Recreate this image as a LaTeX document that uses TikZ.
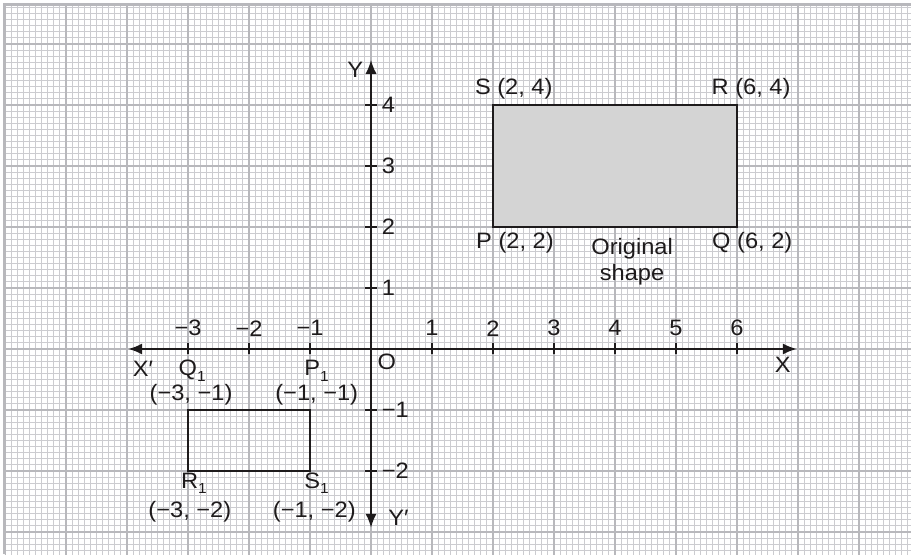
\documentclass[tikz,border=0pt]{standalone}
\usepackage{fontspec}
\setmainfont{Liberation Sans}[FakeStretch=1.06]
\usetikzlibrary{arrows.meta}
\definecolor{minorc}{RGB}{204,204,208}
\definecolor{majorc}{RGB}{184,184,188}
\definecolor{inkc}{RGB}{30,27,28}
\definecolor{shapec}{RGB}{212,212,212}
\newcommand{\subone}{\raisebox{-2.6pt}{\fontsize{6.8}{7}\selectfont 1}}
\begin{document}
\begin{tikzpicture}[x=1cm,y=1cm,
  minorgrid/.style={draw=minorc, line width=0.5pt},
  majorgrid/.style={draw=majorc, line width=1.05pt},
  axisline/.style={draw=inkc, line width=0.95pt, {Latex[length=6.5pt,width=5.2pt]}-{Latex[length=6.5pt,width=5.2pt]}},
  tickmark/.style={draw=inkc, line width=0.85pt},
  lbl/.style={font=\fontsize{10.4}{12}\selectfont, text=inkc, inner sep=0pt},
  shapebox/.style={draw=inkc, line width=1.35pt}
]
\useasboundingbox (-6.082,-3.361) rectangle (8.852,5.721);
\fill[white] (-6.082,-3.361) rectangle (8.852,5.721);
% graph paper
\begin{scope}
\clip (-6,-3.361) rectangle (8.852,5.64);
\draw[minorgrid, step=0.1] (-6,-3.4) grid (8.9,5.7);
\draw[majorgrid, step=1] (-6,-3.4) grid (8.9,5.7);
\end{scope}
\draw[majorgrid, line width=1.4pt] (-6,-3.361) -- (-6,5.64) -- (8.852,5.64);

% axes
\coordinate (xl) at (-3.98,0);
\coordinate (xr) at (6.98,0);
\coordinate (yt) at (0,4.74);
\coordinate (yb) at (0,-2.93);
\draw[axisline] (xl) -- (xr);
\draw[axisline] (yb) -- (yt);

\foreach \x/\t in {-3/−3,-2/−2,-1/−1,1/1,2/2,3/3,4/4,5/5,6/6}{
  \draw[tickmark] (\x,-0.09) -- (\x,0.09);
  \node[lbl] (xt\x) at (\x,0.34) {\t};
}
\foreach \y/\t in {-2/−2,-1/−1,1/1,2/2,3/3,4/4}{
  \draw[tickmark] (-0.1,\y) -- (0.1,\y);
  \node[lbl, anchor=west] (yt\y) at (0.17,\y) {\t};
}
\node[lbl] (O) at (0.26,-0.21) {O};
\node[lbl] (Xp) at (-3.74,-0.32) {X′};
\node[lbl] (X) at (6.75,-0.26) {X};
\node[lbl] (Y) at (-0.26,4.57) {Y};
\node[lbl] (Yp) at (0.45,-2.77) {Y′};

% original shape
\coordinate (P) at (2,2);
\coordinate (Q) at (6,2);
\coordinate (R) at (6,4);
\coordinate (S) at (2,4);
\draw[shapebox, fill=shapec] (P) -- (Q) -- (R) -- (S) -- cycle;
\node[lbl] (Slbl) at (2.34,4.26) {S (2, 4)};
\node[lbl] (Rlbl) at (6.23,4.26) {R (6, 4)};
\node[lbl] (Plbl) at (2.36,1.74) {P (2, 2)};
\node[lbl] (Qlbl) at (6.25,1.74) {Q (6, 2)};
\node[lbl, align=center] (orig) at (4.28,1.43) {Original\\shape};

% image
\coordinate (Q1) at (-3,-1);
\coordinate (P1) at (-1,-1);
\coordinate (S1) at (-1,-2);
\coordinate (R1) at (-3,-2);
\draw[shapebox] (Q1) -- (P1) -- (S1) -- (R1) -- cycle;
\node[lbl, anchor=base west] (Q1a) at (-3.16,-0.44) {Q\subone};
\node[lbl] (Q1b) at (-2.95,-0.75) {(−3, −1)};
\node[lbl, anchor=base west] (P1a) at (-1.1,-0.44) {P\subone};
\node[lbl] (P1b) at (-0.89,-0.75) {(−1, −1)};
\node[lbl, anchor=base west] (R1a) at (-3.12,-2.28) {R\subone};
\node[lbl] (R1b) at (-2.97,-2.67) {(−3, −2)};
\node[lbl, anchor=base west] (S1a) at (-1.1,-2.28) {S\subone};
\node[lbl] (S1b) at (-0.93,-2.67) {(−1, −2)};
\end{tikzpicture}
\end{document}
